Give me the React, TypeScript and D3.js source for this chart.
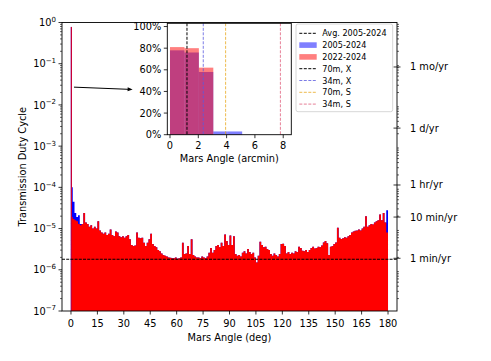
import React from "react";
import * as d3 from "d3";

const W = 491;
const H = 361;
const FONT = "DejaVu Sans, Verdana, sans-serif";

// duty cycle per 1-degree bin of Mars angle, in units of 1e-6
const dc2022 = [
  19, 17, 16, 15, 13, 12, 13, 24, 14, 13,
  11, 12, 10, 11, 10, 15, 9, 8, 7.5, 8,
  7, 7.5, 9.5, 7, 6.5, 8.5, 8, 6.5, 6.2, 6.5,
  6, 6.5, 7, 5.5, 4, 3.8, 3.9, 8, 6, 5.8,
  6, 4.5, 3.8, 4.5, 5.5, 7.5, 4.2, 3.8, 3.5, 3,
  2.8, 2.5, 2.3, 2.2, 2.1, 2, 1.95, 1.9, 1.9, 2,
  1.85, 1.9, 2, 4.5, 2.4, 2.5, 3.8, 2.4, 5.5, 2.3,
  2.1, 2, 2, 1.9, 2.1, 2, 1.9, 2.1, 2.6, 3.4,
  2.6, 3, 3.8, 4, 3.5, 4.5, 3.8, 7.2, 5, 4,
  6.8, 4, 6.5, 2.4, 2.2, 2.3, 2.1, 2.6, 2.8, 2.5,
  3.2, 2.7, 2.4, 2.6, 2, 1.5, 2.2, 4.8, 4, 3.5,
  3.6, 3.2, 3, 2.4, 2.2, 2.5, 2.3, 2.1, 2.4, 4.2,
  4.3, 3.8, 2.5, 2.7, 2.4, 2.6, 2.5, 2.8, 2.7, 3.6,
  3.4, 2.9, 2.8, 3, 2.7, 3, 3.4, 3.6, 3.3, 3.4,
  3.6, 3.5, 3.9, 4.6, 5, 4.4, 2.3, 3.6, 3.8, 4.2,
  4.6, 10.5, 6, 5.6, 5.8, 6.2, 6, 6.5, 7, 8,
  8.5, 8.8, 9, 9.5, 9, 10, 11, 20, 11, 12,
  13, 12.5, 14, 15, 16, 22, 16, 24, 14, 8,
];
const dc2005 = [
  100, 45, 24, 19, 21, 13, 13, 24, 14, 13,
  11, 12, 10, 11, 10, 15, 9, 8, 7.5, 8,
  7, 7.5, 9.5, 7, 6.5, 8.5, 8, 6.5, 6.2, 6.5,
  6, 6.5, 7, 5.5, 4, 3.8, 3.9, 8, 6, 5.8,
  6, 4.5, 3.8, 4.5, 5.5, 7.5, 4.2, 3.8, 3.5, 3,
  2.8, 2.5, 2.3, 2.2, 2.1, 2, 1.95, 1.9, 1.9, 2,
  1.85, 1.9, 2, 4.5, 2.4, 2.5, 3.8, 2.4, 5.5, 2.3,
  2.1, 2, 2, 1.9, 2.1, 2, 1.9, 2.1, 2.6, 3.4,
  2.6, 3, 3.8, 4, 3.5, 4.5, 3.8, 7.2, 5, 4,
  6.8, 4, 6.5, 2.4, 2.2, 2.3, 2.1, 2.6, 2.8, 2.5,
  3.2, 2.7, 2.4, 2.6, 2, 1.5, 2.2, 4.8, 4, 3.5,
  3.6, 3.2, 3, 2.4, 2.2, 2.5, 2.3, 2.1, 2.4, 4.2,
  4.3, 3.8, 2.5, 2.7, 2.4, 2.6, 2.5, 2.8, 2.7, 3.6,
  3.4, 2.9, 2.8, 3, 2.7, 3, 3.4, 3.6, 3.3, 3.4,
  3.6, 3.5, 3.9, 4.6, 5, 4.4, 2.3, 3.6, 3.8, 4.2,
  4.6, 10.5, 6, 5.6, 5.8, 6.2, 6, 6.5, 7, 8,
  8.5, 8.8, 9, 9.5, 9, 10, 11, 20, 11, 12,
  13, 12.5, 14, 15, 16, 22, 16, 24, 14, 28,
];
const UNIT = 1e-6;
const BIN_DEG = 1;
const spikeDuty = 0.78; // first (sub-degree) bin
const avgDuty = 1.8e-6;

const xTicks = [0, 15, 30, 45, 60, 75, 90, 105, 120, 135, 150, 165, 180];
const yExps = [-7, -6, -5, -4, -3, -2, -1, 0];
const rightTicks = [
  { label: "1 mo/yr", value: 1 / 12 },
  { label: "1 d/yr", value: 1 / 365 },
  { label: "1 hr/yr", value: 1 / 8760 },
  { label: "10 min/yr", value: 1 / 52560 },
  { label: "1 min/yr", value: 1 / 525600 },
];

// inset: arcmin bins
const arcEdges = [0, 1.02, 2.04, 3.06, 4.08, 5.1];
const inset2005 = [0.78, 0.76, 0.58, 0.03, 0.03];
const inset2022 = [0.81, 0.8, 0.62, 0, 0];
const insetXTicks = [0, 2, 4, 6, 8];
const insetYTicks = [0, 0.2, 0.4, 0.6, 0.8, 1];
const beamLines = [
  { label: "70m, X", value: 1.2, color: "#000000", width: 1 },
  { label: "34m, X", value: 2.35, color: "#5a5ae0", width: 0.8 },
  { label: "70m, S", value: 3.93, color: "#e8a820", width: 0.8 },
  { label: "34m, S", value: 7.8, color: "#e0607c", width: 0.8 },
];

// arrow from the spike to the inset (data coords)
const arrowFrom = [1.7, 0.027];
const arrowTo = [35, 0.0237];

export default function App() {
  const x = d3.scaleLinear().domain([-5.1, 185.1]).range([62, 397]);
  const y = d3.scaleLog().domain([1e-7, 1]).range([311, 22.5]);
  const [x0, x1] = x.range();
  const [yb, yt] = y.range();

  const toPts = (vals: number[]) => {
    const p: [number, number][] = vals.map((v, i) => [i * BIN_DEG, v * UNIT]);
    p.push([vals.length * BIN_DEG, vals[vals.length - 1] * UNIT]);
    return p;
  };
  const area = d3
    .area<[number, number]>()
    .x((d) => x(d[0]))
    .y0(yb)
    .y1((d) => y(d[1]))
    .curve(d3.curveStepAfter);

  const minors: number[] = [];
  for (let e = -7; e < 0; e++) for (let m = 2; m <= 9; m++) minors.push(m * Math.pow(10, e));

  const ix = d3.scaleLinear().domain([-0.19, 8.57]).range([167.3, 291.3]);
  const iy = d3.scaleLinear().domain([0, 1.03]).range([134.7, 23.3]);
  const [ix0, ix1] = ix.range();
  const [iyb, iyt] = iy.range();

  const legendItems = [
    { label: "Avg. 2005-2024", kind: "line", color: "#000", dash: "3,1.5", width: 1 },
    { label: "2005-2024", kind: "patch", color: "rgba(0,0,255,0.5)" },
    { label: "2022-2024", kind: "patch", color: "rgba(255,0,0,0.5)" },
    ...beamLines.map((b) => ({ label: b.label, kind: "line", color: b.color, dash: "3,1.5", width: b.width })),
  ];

  const ax1 = x(arrowFrom[0]);
  const ay1 = y(arrowFrom[1]);
  const ax2 = x(arrowTo[0]);
  const ay2 = y(arrowTo[1]);
  const ang = Math.atan2(ay2 - ay1, ax2 - ax1);

  return (
    <svg width={W} height={H} style={{ position: "absolute", left: 0, top: 0, background: "#fff" }} fontFamily={FONT}>
      {/* histograms */}
      <path d={area(toPts(dc2005)) || ""} fill="#0000ff" />
      <path d={area(toPts(dc2022)) || ""} fill="#ff0000" />
      <rect x={x(0) - 0.2} width={1.2} y={y(spikeDuty)} height={yb - y(spikeDuty)} fill="#0000ff" />
      <rect x={x(0) - 0.2} width={1.2} y={y(spikeDuty)} height={yb - y(spikeDuty)} fill="#ff0000" opacity={0.8} />
      <line x1={x0} x2={x1} y1={y(avgDuty)} y2={y(avgDuty)} stroke="#000" strokeWidth={1} strokeDasharray="3,1.2" />

      {/* arrow */}
      <line x1={ax1} y1={ay1} x2={ax2 - 4 * Math.cos(ang)} y2={ay2 - 4 * Math.sin(ang)} stroke="#000" strokeWidth={1} />
      <path
        d={`M${ax2},${ay2} L${ax2 - 5 * Math.cos(ang) + 2 * Math.sin(ang)},${ay2 - 5 * Math.sin(ang) - 2 * Math.cos(ang)} L${ax2 - 5 * Math.cos(ang) - 2 * Math.sin(ang)},${ay2 - 5 * Math.sin(ang) + 2 * Math.cos(ang)} Z`}
        fill="#000"
      />

      {/* main frame */}
      <rect x={x0} y={yt} width={x1 - x0} height={yb - yt} fill="none" stroke="#000" strokeWidth={0.9} />

      {/* x axis */}
      {xTicks.map((t) => (
        <g key={t}>
          <line x1={x(t)} x2={x(t)} y1={yb} y2={yb + 3.5} stroke="#000" strokeWidth={0.8} />
          <text x={x(t)} y={yb + 15.5} fontSize={9.8} textAnchor="middle">{t}</text>
        </g>
      ))}
      <text x={(x0 + x1) / 2} y={340.5} fontSize={9.8} textAnchor="middle">Mars Angle (deg)</text>

      {/* left y axis */}
      {yExps.map((e) => (
        <g key={e}>
          <line x1={x0 - 3.5} x2={x0} y1={y(Math.pow(10, e))} y2={y(Math.pow(10, e))} stroke="#000" strokeWidth={0.8} />
          <text x={x0 - 6} y={y(Math.pow(10, e)) + 3.6} fontSize={9.8} textAnchor="end">
            <tspan>10</tspan>
            <tspan dy={-4.2} fontSize={7}>{e === 0 ? "0" : "\u2212" + Math.abs(e)}</tspan>
          </text>
        </g>
      ))}
      {minors.map((m, i) => (
        <line key={i} x1={x0 - 2} x2={x0} y1={y(m)} y2={y(m)} stroke="#000" strokeWidth={0.6} />
      ))}
      <text transform={`translate(25.5,${(yt + yb) / 2}) rotate(-90)`} fontSize={9.8} textAnchor="middle">
        Transmission Duty Cycle
      </text>

      {/* right secondary axis */}
      {minors.map((m, i) => (
        <line key={i} x1={x1} x2={x1 + 2} y1={y(m)} y2={y(m)} stroke="#000" strokeWidth={0.6} />
      ))}
      {rightTicks.map((t) => (
        <g key={t.label}>
          <line x1={x1 - 3.5} x2={x1 + 3.5} y1={y(t.value)} y2={y(t.value)} stroke="#000" strokeWidth={0.8} />
          <text x={x1 + 13} y={y(t.value) + 3.5} fontSize={9.8}>{t.label}</text>
        </g>
      ))}

      {/* inset */}
      <rect x={ix0} y={iyt} width={ix1 - ix0} height={iyb - iyt} fill="#fff" />
      {inset2005.map((v, i) => (
        <rect key={"b" + i} x={ix(arcEdges[i])} width={ix(arcEdges[i + 1]) - ix(arcEdges[i])} y={iy(v)} height={iyb - iy(v)} fill="rgba(0,0,255,0.5)" />
      ))}
      {inset2022.map((v, i) =>
        v > 0 ? (
          <rect key={"r" + i} x={ix(arcEdges[i])} width={ix(arcEdges[i + 1]) - ix(arcEdges[i])} y={iy(v)} height={iyb - iy(v)} fill="rgba(255,0,0,0.5)" />
        ) : null
      )}
      {beamLines.map((b) => (
        <line key={b.label} x1={ix(b.value)} x2={ix(b.value)} y1={iyt} y2={iyb} stroke={b.color} strokeWidth={b.width} strokeDasharray="3,1.5" />
      ))}
      <rect x={ix0} y={iyt} width={ix1 - ix0} height={iyb - iyt} fill="none" stroke="#000" strokeWidth={0.9} />
      {insetXTicks.map((t) => (
        <g key={t}>
          <line x1={ix(t)} x2={ix(t)} y1={iyb} y2={iyb + 3.5} stroke="#000" strokeWidth={0.8} />
          <text x={ix(t)} y={iyb + 14.5} fontSize={9.8} textAnchor="middle">{t}</text>
        </g>
      ))}
      {insetYTicks.map((t) => (
        <g key={t}>
          <line x1={ix0 - 3.5} x2={ix0} y1={iy(t)} y2={iy(t)} stroke="#000" strokeWidth={0.8} />
          <text x={ix0 - 6} y={iy(t) + 3.5} fontSize={9.8} textAnchor="end">{Math.round(t * 100)}%</text>
        </g>
      ))}
      <text x={(ix0 + ix1) / 2} y={162} fontSize={9.8} textAnchor="middle">Mars Angle (arcmin)</text>

      {/* legend */}
      <rect x={296} y={24} width={96.7} height={87.7} rx={2} fill="rgba(255,255,255,0.8)" stroke="#cccccc" strokeWidth={0.8} />
      {legendItems.map((it, i) => {
        const cy = 33.3 + i * 11.8;
        return (
          <g key={it.label}>
            {it.kind === "patch" ? (
              <rect x={299.3} y={cy - 2.8} width={17.4} height={5.6} fill={it.color} />
            ) : (
              <line x1={299.3} x2={316.7} y1={cy} y2={cy} stroke={it.color} strokeWidth={(it as any).width} strokeDasharray={(it as any).dash} />
            )}
            <text x={322.3} y={cy + 3} fontSize={8.1}>{it.label}</text>
          </g>
        );
      })}
    </svg>
  );
}
